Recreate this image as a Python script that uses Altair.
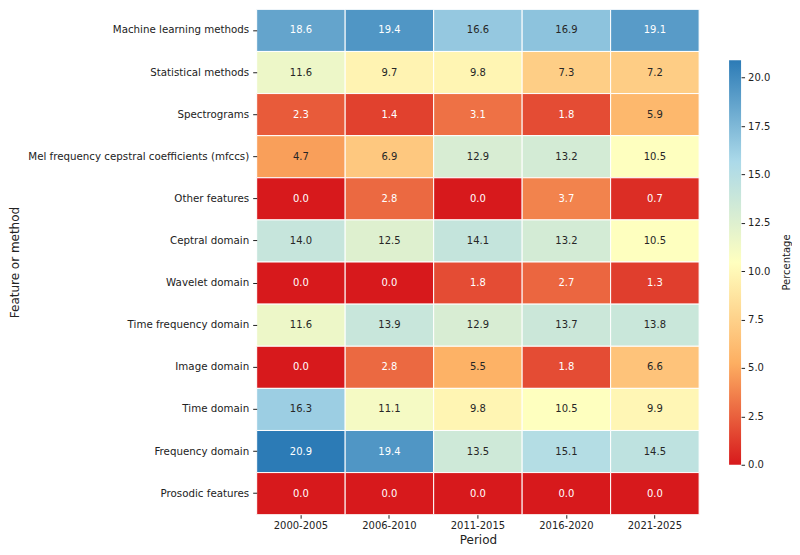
import altair as alt
import pandas as pd

features = [
    "Machine learning methods",
    "Statistical methods",
    "Spectrograms",
    "Mel frequency cepstral coefficients (mfccs)",
    "Other features",
    "Ceptral domain",
    "Wavelet domain",
    "Time frequency domain",
    "Image domain",
    "Time domain",
    "Frequency domain",
    "Prosodic features",
]
periods = ["2000-2005", "2006-2010", "2011-2015", "2016-2020", "2021-2025"]

p2000_2005 = [18.6, 11.6, 2.3, 4.7, 0.0, 14.0, 0.0, 11.6, 0.0, 16.3, 20.9, 0.0]
p2006_2010 = [19.4, 9.7, 1.4, 6.9, 2.8, 12.5, 0.0, 13.9, 2.8, 11.1, 19.4, 0.0]
p2011_2015 = [16.6, 9.8, 3.1, 12.9, 0.0, 14.1, 1.8, 12.9, 5.5, 9.8, 13.5, 0.0]
p2016_2020 = [16.9, 7.3, 1.8, 13.2, 3.7, 13.2, 2.7, 13.7, 1.8, 10.5, 15.1, 0.0]
p2021_2025 = [19.1, 7.2, 5.9, 10.5, 0.7, 10.5, 1.3, 13.8, 6.6, 9.9, 14.5, 0.0]

colorbar_ticks = [0, 2.5, 5, 7.5, 10, 12.5, 15, 17.5, 20]

columns = [p2000_2005, p2006_2010, p2011_2015, p2016_2020, p2021_2025]
rows = []
for period, col in zip(periods, columns):
    for feat, v in zip(features, col):
        rows.append({"Period": period, "Feature": feat, "value": v})
df = pd.DataFrame(rows)

vmin = 0.0
vmax = max(max(c) for c in columns)
colors = ["#d7191c", "#fdae61", "#ffffbf", "#abd9e9", "#2c7bb6"]
dom = [vmin + (vmax - vmin) * i / 4 for i in range(5)]

FONT = "DejaVu Sans"
INK = "#222222"
W, H = 443, 506

base = alt.Chart(df).encode(
    x=alt.X("Period:N", sort=periods, title="Period",
            axis=alt.Axis(labelAngle=0, labelFontSize=10, titleFontSize=12,
                          titleFontWeight="normal", domain=False, tickSize=3.5,
                          labelPadding=2, titlePadding=4, labelColor=INK, titleColor=INK,
                          tickColor=INK)),
    y=alt.Y("Feature:N", sort=features, title="Feature or method",
            axis=alt.Axis(labelFontSize=10.3, titleFontSize=12, titleFontWeight="normal",
                          domain=False, tickSize=4, labelPadding=4, labelLimit=400,
                          titleX=-242, titleY=H / 2, titleAngle=270,
                          titleAlign="center", titleBaseline="middle",
                          labelColor=INK, titleColor=INK, tickColor=INK)),
)

rect = base.mark_rect(stroke="white", strokeWidth=1).encode(
    color=alt.Color("value:Q",
                    scale=alt.Scale(domain=dom, range=colors, interpolate="rgb"),
                    legend=None)
)

text = base.mark_text(fontSize=10, font=FONT).encode(
    text=alt.Text("value:Q", format=".1f"),
    color=alt.condition("datum.value < 4.2 || datum.value > 17.8",
                        alt.value("white"), alt.value("#262626")),
)

heat = (rect + text).properties(width=W, height=H)

# colorbar panel: same height as heatmap, scale domain chosen so the bar sits
# between vmin and vmax at the reference's vertical position
bar_top, bar_bottom = 51, 456
span = (vmax - vmin) * H / (bar_bottom - bar_top)
ytop = vmax + bar_top * span / H
ybot = ytop - span

cb_df = pd.DataFrame({"lo": [vmin], "hi": [vmax]})
grad = alt.Gradient(
    gradient="linear",
    stops=[alt.GradientStop(color=c, offset=i / 4) for i, c in enumerate(colors)],
    x1=0, x2=0, y1=1, y2=0,
)
cbar = alt.Chart(cb_df).mark_rect(fill=grad).encode(
    x=alt.value(0), x2=alt.value(12),
    y=alt.Y("lo:Q", scale=alt.Scale(domain=[ybot, ytop], nice=False, zero=False),
            title="Percentage",
            axis=alt.Axis(orient="right", values=colorbar_ticks, format=".1f",
                          domain=False, grid=False, tickSize=3.5, labelFontSize=10,
                          labelPadding=3, titleFontSize=10, titleFontWeight="normal",
                          titleAngle=270, titlePadding=22, labelColor=INK,
                          titleColor=INK, tickColor=INK, labelBaseline="middle",
                          labelFlush=False)),
    y2="hi:Q",
).properties(width=12, height=H)

chart = alt.hconcat(heat, cbar, spacing=29).properties(
    padding={"left": 0, "top": 0, "right": 0, "bottom": 5},
).configure(font=FONT).configure_view(strokeWidth=0)

chart.save("out.html", embed_options={"renderer": "svg", "actions": False})
